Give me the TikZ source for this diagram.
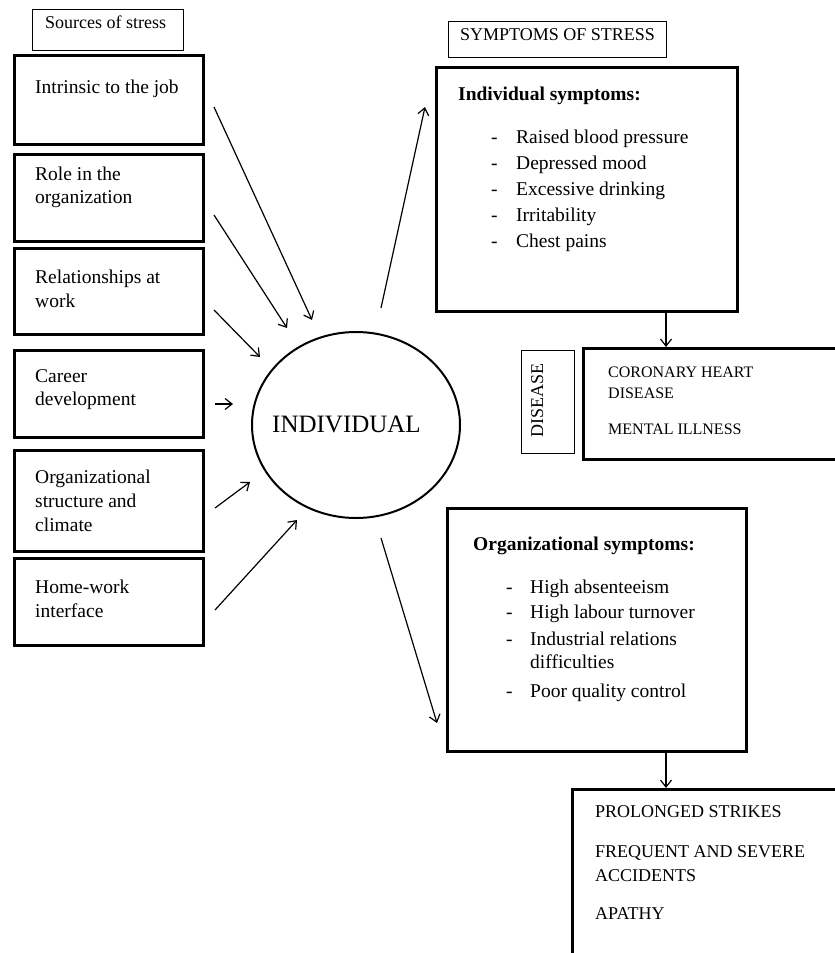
\documentclass[tikz,border=0pt]{standalone}
\usepackage{fontspec}
\setmainfont{Liberation Serif}
\usetikzlibrary{arrows.meta,shapes.geometric}
\tikzset{
  thinbox/.style={draw, rectangle, line width=1.3pt, inner sep=0pt, anchor=north west},
  thickbox/.style={draw, rectangle, line width=3pt, inner sep=0pt, anchor=north west},
  txt/.style={anchor=base west, inner sep=0pt, font=\fontsize{19.5}{23.5}\selectfont},
  captxt/.style={anchor=base west, inner sep=0pt, font=\fontsize{18}{22}\selectfont},
  smalltxt/.style={anchor=base west, inner sep=0pt, font=\fontsize{16}{20}\selectfont},
  boldtxt/.style={anchor=base west, inner sep=0pt, font=\fontsize{19.5}{23.5}\selectfont\bfseries},
  arr/.style={line width=1.2pt, -{Straight Barb[length=7pt,width=11pt,line width=1.2pt]}},
}
\begin{document}
\begin{tikzpicture}[x=1pt,y=-1pt]
\path[use as bounding box] (0,0) rectangle (835,953);
\clip (0,0) rectangle (835,953);
\fill[white] (0,0) rectangle (835,953);

% left column
\node[thinbox, minimum width=151pt, minimum height=41pt] (src) at (32,9) {};
\node[captxt] (srct) at (45,28) {Sources of stress};

\node[thickbox, minimum width=189pt, minimum height=89pt] (intr) at (13,54) {};
\node[txt] (intrt) at (35,93) {Intrinsic to the job};

\node[thickbox, minimum width=189pt, minimum height=87pt] (role) at (13,153) {};
\node[txt] (rolet1) at (35,180) {Role in the};
\node[txt] (rolet2) at (35,203) {organization};

\node[thickbox, minimum width=189pt, minimum height=86pt] (rel) at (13,247) {};
\node[txt] (relt1) at (35,283) {Relationships at};
\node[txt] (relt2) at (35,307) {work};

\node[thickbox, minimum width=189pt, minimum height=87pt] (car) at (13,349) {};
\node[txt] (cart1) at (35,382) {Career};
\node[txt] (cart2) at (35,405) {development};

\node[thickbox, minimum width=189pt, minimum height=101pt] (orgs) at (13,449) {};
\node[txt] (orgst1) at (35,483) {Organizational};
\node[txt] (orgst2) at (35,507) {structure and};
\node[txt] (orgst3) at (35,531) {climate};

\node[thickbox, minimum width=189pt, minimum height=87pt] (home) at (13,557) {};
\node[txt] (homet1) at (35,593) {Home-work};
\node[txt] (homet2) at (35,617) {interface};

% centre
\node[draw, ellipse, line width=2pt, minimum width=208pt, minimum height=186pt, inner sep=0pt] (ind) at (356,425) {};
\node[anchor=base west, inner sep=0pt, font=\fontsize{25}{30}\selectfont] (indt) at (272,432) {INDIVIDUAL};

% right column
\node[thinbox, minimum width=218pt, minimum height=36pt] (symt) at (448,21) {};
\node[captxt] (symtt) at (460,40) {SYMPTOMS OF STRESS};

\node[thickbox, minimum width=301pt, minimum height=244pt] (isym) at (435,66) {};
\node[boldtxt] (isymh) at (458,100) {Individual symptoms:};
\node[txt] (isd1) at (491,143) {-};
\node[txt] (isi1) at (516,143) {Raised blood pressure};
\node[txt] (isd2) at (491,169) {-};
\node[txt] (isi2) at (516,169) {Depressed mood};
\node[txt] (isd3) at (491,195) {-};
\node[txt] (isi3) at (516,195) {Excessive drinking};
\node[txt] (isd4) at (491,221) {-};
\node[txt] (isi4) at (516,221) {Irritability};
\node[txt] (isd5) at (491,247) {-};
\node[txt] (isi5) at (516,247) {Chest pains};

\node[thinbox, minimum width=53pt, minimum height=103pt] (dis) at (521,350) {};
\node[anchor=base, rotate=90, inner sep=0pt, font=\fontsize{18}{22}\selectfont] (dist) at (543,400) {DISEASE};

\node[thickbox, minimum width=270pt, minimum height=111pt] (cor) at (582,347) {};
\node[smalltxt] (cort1) at (608,377) {CORONARY HEART};
\node[smalltxt] (cort2) at (608,398) {DISEASE};
\node[smalltxt] (cort3) at (608,434) {MENTAL ILLNESS};

\node[thickbox, minimum width=299pt, minimum height=243pt] (osym) at (446,507) {};
\node[boldtxt] (osymh) at (473,550) {Organizational symptoms:};
\node[txt] (osd1) at (506,593) {-};
\node[txt] (osi1) at (530,593) {High absenteeism};
\node[txt] (osd2) at (506,618) {-};
\node[txt] (osi2) at (530,618) {High labour turnover};
\node[txt] (osd3) at (506,645) {-};
\node[txt] (osi3) at (530,645) {Industrial relations};
\node[txt] (osi3b) at (530,668) {difficulties};
\node[txt] (osd4) at (506,697) {-};
\node[txt] (osi4) at (530,697) {Poor quality control};

\node[thickbox, minimum width=280pt, minimum height=200pt] (bot) at (571,788) {};
\node[captxt] (bott1) at (595,817) {PROLONGED STRIKES};
\node[captxt] (bott2) at (595,857) {FREQUENT AND SEVERE};
\node[captxt] (bott3) at (595,881) {ACCIDENTS};
\node[captxt] (bott4) at (595,919) {APATHY};

% arrow end points
\coordinate (a1s) at (214,107); \coordinate (a1e) at (312,320);
\coordinate (a2s) at (214,215); \coordinate (a2e) at (287,328);
\coordinate (a3s) at (214,310); \coordinate (a3e) at (260,357);
\coordinate (a4s) at (215,404); \coordinate (a4e) at (233,404);
\coordinate (a5s) at (215,508); \coordinate (a5e) at (250,482);
\coordinate (a6s) at (215,610); \coordinate (a6e) at (297,520);
\coordinate (ups) at (381,308); \coordinate (upe) at (425,107);
\coordinate (dns) at (381,538); \coordinate (dne) at (437,723);
\coordinate (cx) at (666,0);

\draw[arr] (a1s) -- (a1e);
\draw[arr] (a2s) -- (a2e);
\draw[arr] (a3s) -- (a3e);
\draw[arr] (a4s) -- (a4e);
\draw[arr] (a5s) -- (a5e);
\draw[arr] (a6s) -- (a6e);
\draw[arr] (ups) -- (upe);
\draw[arr] (dns) -- (dne);
\draw[arr] (cx |- isym.south) -- (cx |- cor.north);
\draw[arr] (cx |- osym.south) -- (cx |- bot.north);
\end{tikzpicture}
\end{document}
